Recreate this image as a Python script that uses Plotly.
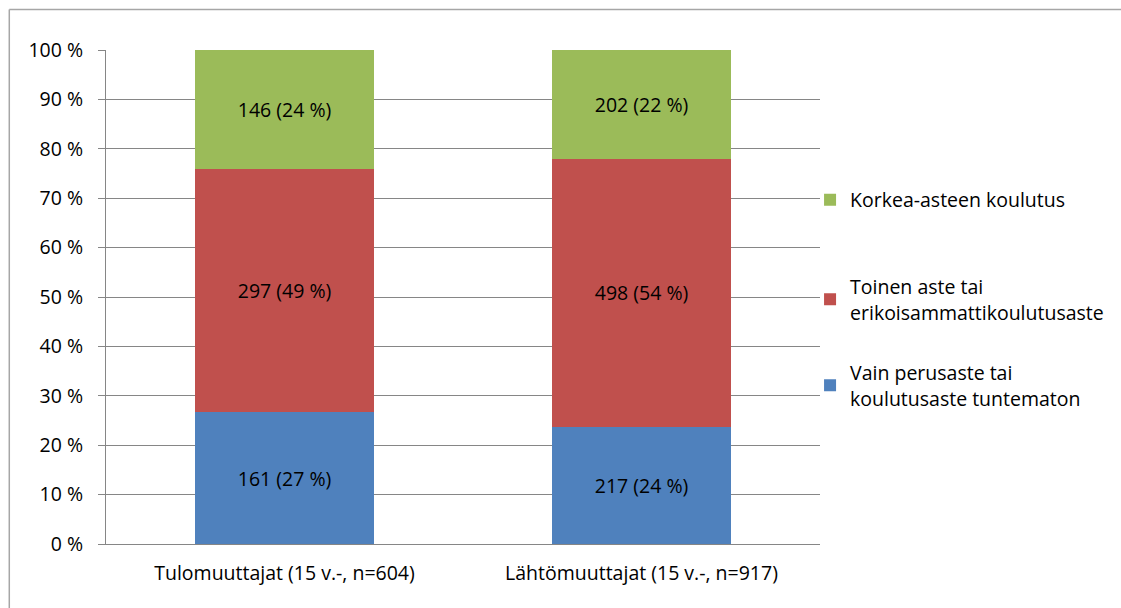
import plotly.graph_objects as go

categories = ["Tulomuuttajat (15 v.-, n=604)", "Lähtömuuttajat (15 v.-, n=917)"]
totals = [604, 917]
series_names = [
    "Vain perusaste tai<br>koulutusaste tuntematon",
    "Toinen aste tai<br>erikoisammattikoulutusaste",
    "Korkea-asteen koulutus",
]
series_values = [
    [161, 217],
    [297, 498],
    [146, 202],
]
series_colors = ["#4F81BD", "#C0504D", "#9BBB59"]
y_ticks = [0, 10, 20, 30, 40, 50, 60, 70, 80, 90, 100]

FONT = "Open Sans"
FS = 19.5
W, H = 1121, 608
L, R, T, B = 106, 824, 50, 544


def px_x(p):
    return (p - L) / (R - L)


def px_y(p):
    return (B - p) / (B - T)


legend_ids = ["legend3", "legend2", "legend"]
legend_centers = [385.5, 299.5, 200]

fig = go.Figure()
for i, (name, vals, col) in enumerate(zip(series_names, series_values, series_colors)):
    pct = [v / t * 100 for v, t in zip(vals, totals)]
    labels = [f"{v} ({round(p)} %)" for v, p in zip(vals, pct)]
    fig.add_trace(go.Bar(
        x=categories, y=pct, name=name, marker=dict(color=col, line=dict(width=0)),
        text=labels, textposition="inside", insidetextanchor="middle",
        textfont=dict(family=FONT, size=FS, color="black"),
        textangle=0, legend=legend_ids[i], cliponaxis=False, hoverinfo="skip",
    ))

shapes = [
    dict(type="line", xref="paper", yref="paper", x0=px_x(8.75), x1=px_x(1200), y0=px_y(9.5), y1=px_y(9.5),
         line=dict(color="#A6A6A6", width=1.5)),
    dict(type="line", xref="paper", yref="paper", x0=px_x(8.75), x1=px_x(8.75), y0=px_y(9.5), y1=px_y(700),
         line=dict(color="#A6A6A6", width=1.5)),
]

leg_common = dict(
    x=px_x(814), xanchor="left", yanchor="middle",
    font=dict(family=FONT, size=FS, color="black"),
    bgcolor="rgba(0,0,0,0)", borderwidth=0,
)
layout_legends = {}
for lid, cy in zip(legend_ids, legend_centers):
    layout_legends[lid] = dict(leg_common, y=px_y(cy))

fig.update_layout(
    width=W, height=H,
    margin=dict(l=L, r=W - R, t=T, b=H - B, pad=0),
    paper_bgcolor="white", plot_bgcolor="white",
    barmode="stack", bargap=0.5,
    font=dict(family=FONT, size=FS, color="black"),
    showlegend=True,
    shapes=shapes,
    **layout_legends,
)
fig.update_xaxes(
    showgrid=False, showline=True, linecolor="#868686", linewidth=1,
    ticks="", ticklabelstandoff=12, tickfont=dict(family=FONT, size=FS, color="black"),
)
fig.update_yaxes(
    range=[0, 100], tickvals=y_ticks, ticktext=[f"{v} %" for v in y_ticks],
    showgrid=True, gridcolor="#868686", gridwidth=1,
    showline=True, linecolor="#868686", linewidth=1,
    ticks="outside", ticklen=7, tickcolor="#868686",
    ticklabelstandoff=11, tickfont=dict(family=FONT, size=FS, color="black"),
    zeroline=False,
)

fig.write_html(
    "out.html",
    config={"displayModeBar": False},
    post_script="document.body.style.margin='0';document.body.style.overflow='hidden';",
)
